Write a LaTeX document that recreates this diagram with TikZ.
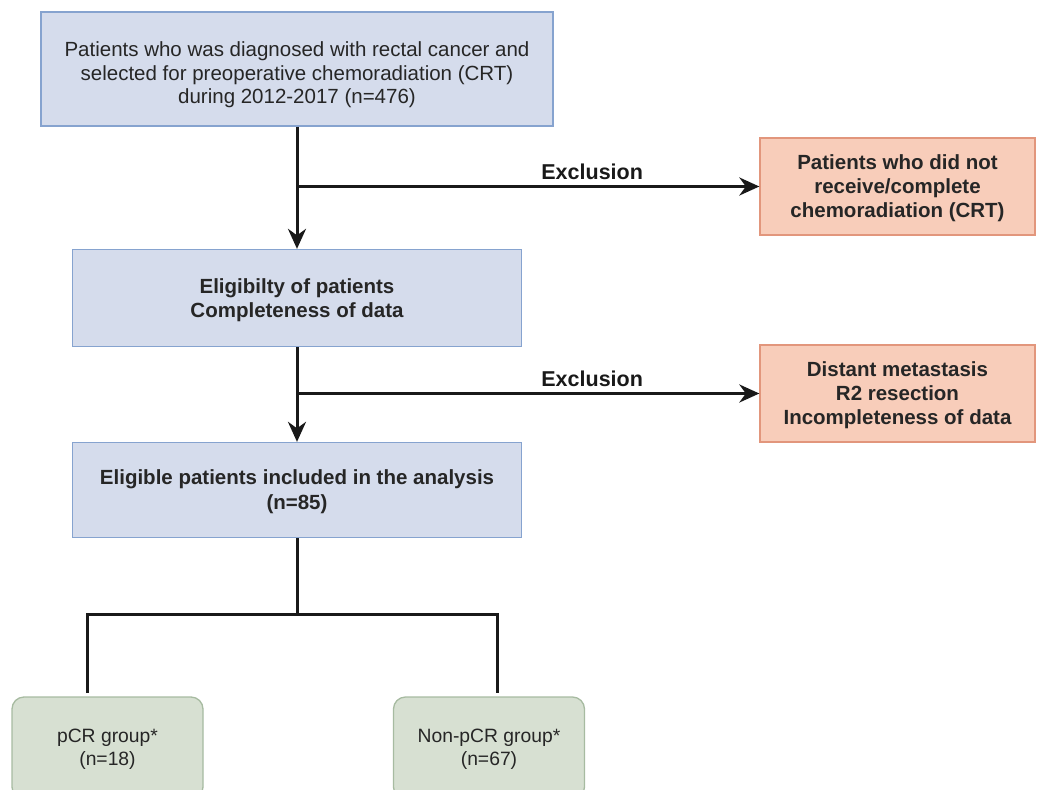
\documentclass[tikz,border=0pt]{standalone}
\usepackage{fontspec}
\setmainfont{Liberation Sans}
\usetikzlibrary{arrows.meta,positioning}

\definecolor{boxblue}{HTML}{D5DCEC}
\definecolor{lineblue}{HTML}{86A3CF}
\definecolor{boxred}{HTML}{F8CDBA}
\definecolor{linered}{HTML}{E2967C}
\definecolor{boxgreen}{HTML}{D7E0D2}
\definecolor{linegreen}{HTML}{A7BBA1}

\tikzset{
  bluebox/.style={draw=lineblue, fill=boxblue, line width=1.3pt, align=center,
    text=black!85, text depth=0pt, font=\fontsize{20.5}{23.5}\selectfont},
  redbox/.style={draw=linered, fill=boxred, line width=1.3pt, align=center,
    text=black!85, text depth=0pt, font=\bfseries\fontsize{20.5}{24}\selectfont,
    minimum width=275pt, minimum height=97pt},
  greenbox/.style={draw=linegreen, fill=boxgreen, line width=1.3pt, align=center,
    rounded corners=12pt, text=black!85, text depth=2pt,
    font=\fontsize{19.3}{23}\selectfont,
    minimum width=191pt, minimum height=102pt},
  flow/.style={line width=3pt, black!90},
  exlabel/.style={above=2pt, xshift=64pt, text=black!90,
    font=\bfseries\fontsize{21.5}{22}\selectfont},
}

\begin{document}
\begin{tikzpicture}[x=1pt, y=-1pt, >={Stealth[length=20pt,width=18pt]}]
    \useasboundingbox (0,0) rectangle (1037,790);

    % Main column
    \node[bluebox, minimum width=512pt, minimum height=114pt] (crt) at (297,69)
        {\rule{0pt}{22pt}Patients who was diagnosed with rectal cancer and\\
         selected for preoperative chemoradiation (CRT)\\
         during 2012-2017 (n=476)};
    \node[bluebox, font=\bfseries\fontsize{20.5}{24}\selectfont,
          minimum width=449pt, minimum height=97pt] (elig) at (297,298)
        {Eligibilty of patients\\ Completeness of data};
    \node[bluebox, font=\bfseries\fontsize{20.5}{25}\selectfont,
          minimum width=449pt, minimum height=95pt] (incl) at (297,490)
        {Eligible patients included in the analysis\\ (n=85)};

    % Exclusions
    \node[redbox] (norct) at (897.5,186.5)
        {Patients who did not\\ receive/complete\\ chemoradiation (CRT)};
    \node[redbox] (excl) at (897.5,393.5)
        {Distant metastasis\\ R2 resection\\ Incompleteness of data};

    % Groups (cut by the lower edge)
    \node[greenbox] (pcr) at (107.5,748) {pCR group*\\ (n=18)};
    \node[greenbox] (npcr) at (489,748) {Non-pCR group*\\ (n=67)};

    % Arrows
    \draw[flow, ->] (crt.south) -- (elig.north);
    \draw[flow, ->] (crt.south |- norct.west) -- (norct.west)
        node[midway, exlabel] {Exclusion};
    \draw[flow, ->] (elig.south) -- (incl.north);
    \draw[flow, ->] (elig.south |- excl.west) -- (excl.west)
        node[midway, exlabel] {Exclusion};

    % Split into groups
    \coordinate (split) at (297,614);
    \coordinate (lp) at (87,693);
    \coordinate (rp) at (497,693);
    \draw[flow] (incl.south) -- (split);
    \draw[flow] (lp) |- (split) -| (rp);
\end{tikzpicture}
\end{document}
